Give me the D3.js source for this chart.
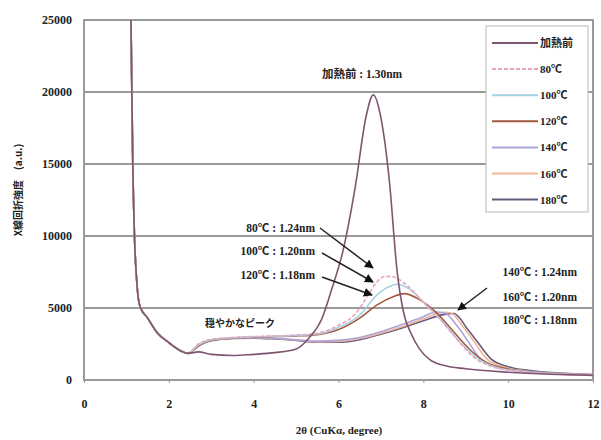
<!DOCTYPE html>
<html>
<head>
<meta charset="utf-8">
<script src="https://cdn.jsdelivr.net/npm/d3@7"></script>
<style>
  body { margin: 0; background: #fff; }
  text { font-family: "Liberation Serif", "Noto Sans CJK JP", serif; font-weight: bold; fill: #222; }
  .jp { font-family: "Noto Sans CJK JP", sans-serif; }
</style>
</head>
<body>
<div class="graph-pane"></div>
<script>
// x ticks, y ticks
const xTicks = [0, 2, 4, 6, 8, 10, 12];
const yTicks = [0, 5000, 10000, 15000, 20000, 25000];

const seriesNames = ["加熱前", "80℃", "100℃", "120℃", "140℃", "160℃", "180℃"];
const seriesColors = ["#7e5570", "#e9a3bd", "#a6d3e3", "#a5573f", "#aaa3dc", "#f2b596", "#675a7e"];

// steep low-angle drop shared by every sample
const lowAngle = [[1.08, 32000], [1.12, 22000], [1.15, 15000], [1.19, 10000], [1.25, 6600],
  [1.32, 5100], [1.5, 4300], [1.72, 3300], [2.0, 2600], [2.3, 2000], [2.45, 1850]];

const before = [[2.7, 1950], [3.0, 1780], [3.5, 1700], [4.0, 1780], [4.5, 1900], [5.0, 2150],
  [5.3, 2900], [5.6, 4200], [5.85, 6400], [6.1, 8900], [6.4, 13500], [6.65, 18300], [6.82, 19800],
  [7.0, 18200], [7.2, 13800], [7.38, 7600], [7.55, 4500], [7.7, 3300], [7.9, 2200], [8.16, 1400],
  [8.5, 1000], [9.0, 780], [10.0, 540], [11.0, 400], [12.0, 320]];

const t80 = [[2.7, 2500], [3.0, 2820], [3.5, 2950], [4.0, 3020], [4.5, 3060], [5.0, 3120], [5.5, 3250],
  [6.0, 3800], [6.4, 4600], [6.7, 5900], [6.9, 6800], [7.1, 7200], [7.3, 7150], [7.6, 6600],
  [8.0, 5400], [8.4, 4200], [8.8, 2800], [9.2, 1550], [9.6, 950], [10.2, 620], [11.0, 430], [12.0, 330]];

const t100 = [[2.7, 2450], [3.0, 2780], [3.5, 2930], [4.0, 3000], [4.5, 3040], [5.0, 3100], [5.5, 3200],
  [6.0, 3650], [6.5, 4500], [6.9, 5900], [7.2, 6500], [7.4, 6650], [7.7, 6250], [8.1, 5100],
  [8.5, 3900], [8.9, 2500], [9.3, 1450], [9.8, 820], [10.5, 560], [11.2, 420], [12.0, 330]];

const t120 = [[2.7, 2400], [3.0, 2750], [3.5, 2900], [4.0, 2980], [4.5, 3020], [5.0, 3060], [5.5, 3150],
  [6.0, 3500], [6.5, 4300], [6.9, 5200], [7.3, 5800], [7.55, 6000], [7.9, 5600], [8.3, 4700],
  [8.7, 3400], [9.1, 2100], [9.5, 1200], [10.0, 760], [11.0, 450], [12.0, 340]];

const t140 = [[2.7, 2450], [3.0, 2800], [3.5, 2920], [4.0, 2950], [4.5, 2900], [5.0, 2800], [5.5, 2700],
  [6.0, 2750], [6.5, 2950], [7.0, 3350], [7.5, 3850], [8.0, 4400], [8.3, 4720], [8.5, 4650],
  [8.8, 3750], [9.05, 2700], [9.35, 1450], [9.7, 900], [10.2, 650], [11.0, 460], [12.0, 360]];

const t160 = [[2.7, 2400], [3.0, 2760], [3.5, 2900], [4.0, 2930], [4.5, 2880], [5.0, 2780], [5.5, 2650],
  [6.0, 2680], [6.5, 2880], [7.0, 3250], [7.5, 3700], [8.0, 4250], [8.5, 4700], [8.65, 4650],
  [8.95, 3650], [9.2, 2650], [9.5, 1450], [9.9, 880], [10.4, 630], [11.0, 480], [12.0, 370]];

const t180 = [[2.7, 2350], [3.0, 2720], [3.5, 2880], [4.0, 2910], [4.5, 2850], [5.0, 2750], [5.5, 2620],
  [6.0, 2620], [6.5, 2800], [7.0, 3180], [7.5, 3620], [8.0, 4120], [8.5, 4560], [8.72, 4620],
  [9.05, 3500], [9.3, 2550], [9.6, 1450], [10.0, 920], [10.5, 660], [11.2, 480], [12.0, 380]];

const seriesData = [before, t80, t100, t120, t140, t160, t180].map(d => lowAngle.concat(d));

const W = 601, H = 440;
const margin = { left: 84, right: 8, top: 20, bottom: 60 };

const svg = d3.select('.graph-pane')
  .append('svg')
  .attr('width', W)
  .attr('height', H);

const xScale = d3.scaleLinear().domain([0, 12]).range([margin.left, 593]);
const yScale = d3.scaleLinear().domain([0, 25000]).range([H - margin.bottom, margin.top]);

svg.append('clipPath').attr('id', 'plot-clip')
  .append('rect')
  .attr('x', margin.left).attr('y', margin.top)
  .attr('width', W - margin.right - margin.left)
  .attr('height', yScale(0) - margin.top);

// grid lines
svg.append('g')
  .selectAll('line')
  .data(yTicks.filter(d => d > 0))
  .join('line')
  .attr('x1', margin.left).attr('x2', W - margin.right)
  .attr('y1', d => yScale(d)).attr('y2', d => yScale(d))
  .style('stroke', '#9a9a9a')
  .style('stroke-width', 2);

// plot frame
svg.append('rect')
  .attr('x', margin.left).attr('y', margin.top)
  .attr('width', W - margin.right - margin.left)
  .attr('height', yScale(0) - margin.top)
  .style('fill', 'none')
  .style('stroke', '#9a9a9a')
  .style('stroke-width', 2);

// axes
const xAxis = d3.axisBottom(xScale).tickValues(xTicks).tickSize(3).tickPadding(16);
const yAxis = d3.axisLeft(yScale).tickValues(yTicks).tickFormat(d3.format('d')).tickSize(0).tickPadding(12);

const gx = svg.append('g')
  .attr('transform', 'translate(0,' + yScale(0) + ')')
  .call(xAxis);
gx.select('.domain').remove();
gx.selectAll('line').style('stroke', '#9a9a9a');
gx.selectAll('text').style('font-size', '12px').style('font-family', '"Liberation Serif", serif');

const gy = svg.append('g')
  .attr('transform', 'translate(' + margin.left + ',0)')
  .call(yAxis);
gy.select('.domain').remove();
gy.selectAll('text').style('font-size', '12px').style('font-family', '"Liberation Serif", serif');

// curves
const line = d3.line()
  .x(d => xScale(d[0]))
  .y(d => yScale(d[1]))
  .curve(d3.curveMonotoneX);

const curves = svg.append('g').attr('clip-path', 'url(#plot-clip)');
// draw the hottest first so 加熱前 sits on top
for (let i = seriesData.length - 1; i >= 0; i--) {
  curves.append('path')
    .datum(seriesData[i])
    .attr('d', line)
    .style('fill', 'none')
    .style('stroke', seriesColors[i])
    .style('stroke-width', 1.6)
    .style('stroke-dasharray', i === 1 ? '4,2' : null);
}

// legend
const legend = svg.append('g');
legend.append('rect')
  .attr('x', 486).attr('y', 26)
  .attr('width', 102).attr('height', 186)
  .style('fill', '#fff')
  .style('stroke', '#b8b8b8')
  .style('stroke-width', 1);

seriesNames.forEach((name, i) => {
  const y = 43 + i * 26.1;
  legend.append('line')
    .attr('x1', 492).attr('x2', 538)
    .attr('y1', y).attr('y2', y)
    .style('stroke', seriesColors[i])
    .style('stroke-width', 2)
    .style('stroke-dasharray', i === 1 ? '4,2' : null);
  legend.append('text')
    .attr('class', i === 0 ? 'jp' : null)
    .attr('x', 540).attr('y', y + 4)
    .style('font-size', '11px')
    .text(name);
});

// axis titles
svg.append('text')
  .attr('transform', 'translate(22,190) rotate(-90)')
  .attr('text-anchor', 'middle')
  .style('font-size', '10px')
  .style('font-family', '"Noto Sans CJK JP", sans-serif')
  .text('X線回折強度　(a.u.)');

svg.append('text')
  .attr('x', 339).attr('y', 434)
  .attr('text-anchor', 'middle')
  .style('font-size', '11px')
  .text('2θ  (CuKα, degree)');

// annotations
const notes = [
  { x: 322, y: 78, t: '加熱前 : 1.30nm', a: 'start' },
  { x: 315, y: 232, t: '80℃ : 1.24nm', a: 'end' },
  { x: 315, y: 255, t: '100℃ : 1.20nm', a: 'end' },
  { x: 315, y: 279, t: '120℃ : 1.18nm', a: 'end' },
  { x: 577, y: 276, t: '140℃ : 1.24nm', a: 'end' },
  { x: 577, y: 301, t: '160℃ : 1.20nm', a: 'end' },
  { x: 577, y: 324, t: '180℃ : 1.18nm', a: 'end' }
];
notes.forEach(n => {
  svg.append('text')
    .attr('x', n.x).attr('y', n.y)
    .attr('text-anchor', n.a)
    .style('font-size', '11.5px')
    .text(n.t);
});

svg.append('text')
  .attr('class', 'jp')
  .attr('x', 205).attr('y', 327)
  .style('font-size', '10px')
  .text('穏やかなピーク');

svg.append('defs').append('marker')
  .attr('id', 'tri')
  .attr('viewBox', '0 0 10 10')
  .attr('refX', 9).attr('refY', 5)
  .attr('markerWidth', 9).attr('markerHeight', 9)
  .attr('markerUnits', 'userSpaceOnUse')
  .attr('orient', 'auto')
  .append('path')
  .attr('d', 'M0,0 L10,5 L0,10 Z')
  .style('fill', '#111');

const arrows = [
  [320, 228, 373, 268],
  [322, 253, 373, 282],
  [322, 277, 372, 295],
  [487, 288, 458, 310]
];
arrows.forEach(a => {
  svg.append('line')
    .attr('x1', a[0]).attr('y1', a[1])
    .attr('x2', a[2]).attr('y2', a[3])
    .style('stroke', '#222')
    .style('stroke-width', 1.5)
    .attr('marker-end', 'url(#tri)');
});
</script>
</body>
</html>
